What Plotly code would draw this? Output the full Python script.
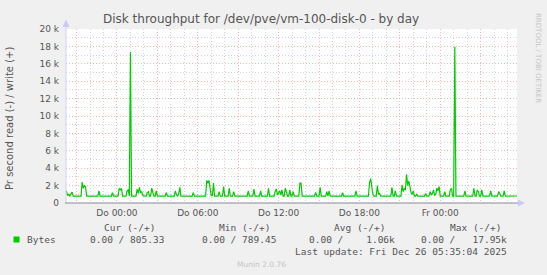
import plotly.graph_objects as go

# ---------------- data ----------------
sample_times = [
    "2025-12-24 20:13", "2025-12-24 20:15", "2025-12-24 20:20", "2025-12-24 20:25", "2025-12-24 20:30",
    "2025-12-24 20:40", "2025-12-24 20:45", "2025-12-24 21:20", "2025-12-24 21:25", "2025-12-24 21:30",
    "2025-12-24 21:35", "2025-12-24 21:40", "2025-12-24 21:45", "2025-12-24 22:35", "2025-12-24 22:40",
    "2025-12-24 22:45", "2025-12-24 23:35", "2025-12-24 23:40", "2025-12-24 23:45",
    "2025-12-25 00:05", "2025-12-25 00:10", "2025-12-25 00:15", "2025-12-25 00:20", "2025-12-25 00:25",
    "2025-12-25 00:40", "2025-12-25 00:45", "2025-12-25 00:50", "2025-12-25 00:55", "2025-12-25 01:00",
    "2025-12-25 01:05", "2025-12-25 01:25", "2025-12-25 01:30", "2025-12-25 01:35", "2025-12-25 01:40",
    "2025-12-25 01:45", "2025-12-25 01:50", "2025-12-25 01:55", "2025-12-25 02:00", "2025-12-25 02:10",
    "2025-12-25 02:15", "2025-12-25 02:20", "2025-12-25 02:25", "2025-12-25 02:30", "2025-12-25 02:35",
    "2025-12-25 02:40", "2025-12-25 02:45", "2025-12-25 02:50", "2025-12-25 02:55", "2025-12-25 03:00",
    "2025-12-25 03:35", "2025-12-25 03:40", "2025-12-25 03:45", "2025-12-25 04:15", "2025-12-25 04:20",
    "2025-12-25 04:25", "2025-12-25 04:30", "2025-12-25 04:35", "2025-12-25 04:40", "2025-12-25 04:45",
    "2025-12-25 05:35", "2025-12-25 05:40", "2025-12-25 05:45", "2025-12-25 06:35", "2025-12-25 06:40",
    "2025-12-25 06:45", "2025-12-25 06:50", "2025-12-25 06:55", "2025-12-25 07:00", "2025-12-25 07:05",
    "2025-12-25 07:10", "2025-12-25 07:15", "2025-12-25 07:30", "2025-12-25 07:35", "2025-12-25 07:40",
    "2025-12-25 07:50", "2025-12-25 07:55", "2025-12-25 08:00", "2025-12-25 08:15", "2025-12-25 08:20",
    "2025-12-25 08:25", "2025-12-25 08:35", "2025-12-25 08:40", "2025-12-25 08:45", "2025-12-25 09:40",
    "2025-12-25 09:45", "2025-12-25 09:50", "2025-12-25 10:05", "2025-12-25 10:10", "2025-12-25 10:15",
    "2025-12-25 10:35", "2025-12-25 10:40", "2025-12-25 10:45", "2025-12-25 11:10", "2025-12-25 11:15",
    "2025-12-25 11:20", "2025-12-25 11:40", "2025-12-25 11:45", "2025-12-25 11:50", "2025-12-25 11:55",
    "2025-12-25 12:00", "2025-12-25 12:05", "2025-12-25 12:10", "2025-12-25 12:15", "2025-12-25 12:20",
    "2025-12-25 12:25", "2025-12-25 12:30", "2025-12-25 12:35", "2025-12-25 12:40", "2025-12-25 12:45",
    "2025-12-25 12:50", "2025-12-25 12:55", "2025-12-25 13:00", "2025-12-25 13:05", "2025-12-25 13:10",
    "2025-12-25 13:30", "2025-12-25 13:35", "2025-12-25 13:40", "2025-12-25 13:45", "2025-12-25 14:40",
    "2025-12-25 14:45", "2025-12-25 14:50", "2025-12-25 15:00", "2025-12-25 15:05", "2025-12-25 15:10",
    "2025-12-25 15:30", "2025-12-25 15:35", "2025-12-25 15:40", "2025-12-25 15:45", "2025-12-25 15:50",
    "2025-12-25 16:40", "2025-12-25 16:45", "2025-12-25 16:50", "2025-12-25 17:40", "2025-12-25 17:45",
    "2025-12-25 17:50", "2025-12-25 18:40", "2025-12-25 18:45", "2025-12-25 18:50", "2025-12-25 18:55",
    "2025-12-25 19:00", "2025-12-25 19:05", "2025-12-25 19:15", "2025-12-25 19:20", "2025-12-25 19:25",
    "2025-12-25 19:30", "2025-12-25 19:35", "2025-12-25 20:20", "2025-12-25 20:25", "2025-12-25 20:30",
    "2025-12-25 20:35", "2025-12-25 20:40", "2025-12-25 20:45", "2025-12-25 21:05", "2025-12-25 21:10",
    "2025-12-25 21:15", "2025-12-25 21:20", "2025-12-25 21:25", "2025-12-25 21:30", "2025-12-25 21:35",
    "2025-12-25 21:40", "2025-12-25 21:45", "2025-12-25 21:50", "2025-12-25 21:55", "2025-12-25 22:00",
    "2025-12-25 22:05", "2025-12-25 22:10", "2025-12-25 22:15", "2025-12-25 22:20", "2025-12-25 22:50",
    "2025-12-25 22:55", "2025-12-25 23:00", "2025-12-25 23:10", "2025-12-25 23:15", "2025-12-25 23:20",
    "2025-12-25 23:25", "2025-12-25 23:30", "2025-12-25 23:35", "2025-12-25 23:40", "2025-12-25 23:45",
    "2025-12-25 23:50", "2025-12-25 23:55",
    "2025-12-26 00:00", "2025-12-26 00:15", "2025-12-26 00:20", "2025-12-26 00:25", "2025-12-26 00:40",
    "2025-12-26 00:45", "2025-12-26 00:50", "2025-12-26 00:55", "2025-12-26 01:00", "2025-12-26 01:05",
    "2025-12-26 01:10", "2025-12-26 01:45", "2025-12-26 01:50", "2025-12-26 01:55", "2025-12-26 02:25",
    "2025-12-26 02:30", "2025-12-26 02:35", "2025-12-26 02:40", "2025-12-26 02:45", "2025-12-26 02:50",
    "2025-12-26 02:55", "2025-12-26 03:00", "2025-12-26 03:05", "2025-12-26 03:10", "2025-12-26 03:40",
    "2025-12-26 03:45", "2025-12-26 03:50", "2025-12-26 04:15", "2025-12-26 04:20", "2025-12-26 04:25",
    "2025-12-26 04:30", "2025-12-26 04:40", "2025-12-26 04:45", "2025-12-26 04:50", "2025-12-26 05:42",
]
write_bytes = [
    1350, 1350, 900, 1000, 800,
    1250, 800, 800, 2400, 1700,
    2000, 1900, 800, 800, 1400,
    800, 800, 1200, 800,
    800, 1700, 1500, 1700, 800,
    800, 1400, 1500, 800, 17350,
    800, 800, 1600, 1100, 1800,
    1200, 1300, 900, 800, 800,
    1200, 1300, 800, 800, 1700,
    1200, 800, 800, 1400, 800,
    800, 1200, 800, 800, 1400,
    950, 800, 1000, 1800, 800,
    800, 1200, 800, 800, 2600,
    2300, 2600, 1700, 900, 800,
    2300, 800, 800, 1300, 800,
    800, 1900, 800, 800, 1700,
    800, 800, 1300, 800, 800,
    1400, 800, 800, 1600, 800,
    800, 1400, 800, 800, 1700,
    800, 800, 1300, 1600, 900,
    1100, 1400, 900, 1500, 800,
    800, 1700, 1100, 800, 800,
    1500, 800, 800, 1300, 800,
    800, 2300, 2300, 800, 800,
    1200, 800, 800, 1800, 800,
    800, 1300, 800, 1400, 800,
    800, 1200, 800, 800, 1400,
    800, 800, 2300, 2800, 1900,
    1000, 800, 800, 2000, 1000,
    1100, 800, 800, 1800, 800,
    800, 1400, 800, 800, 2100,
    1300, 1700, 1500, 3300, 2000,
    2500, 1900, 1200, 1000, 1400,
    800, 800, 1000, 800, 800,
    1100, 800, 800, 1300, 900,
    1100, 1500, 900, 1000, 1700,
    1400, 1900,
    800, 800, 1300, 800, 800,
    1500, 1700, 800, 800, 17950,
    800, 800, 1400, 800, 800,
    1700, 800, 800, 1500, 1300,
    800, 800, 1500, 800, 800,
    1400, 800, 800, 1300, 1100,
    800, 800, 1400, 800, 805,
]

x_range = ["2025-12-24 20:13", "2025-12-26 05:42"]
x_tick_vals = [
    "2025-12-24 21:00", "2025-12-25 00:00", "2025-12-25 03:00", "2025-12-25 06:00",
    "2025-12-25 09:00", "2025-12-25 12:00", "2025-12-25 15:00", "2025-12-25 18:00",
    "2025-12-25 21:00", "2025-12-26 00:00", "2025-12-26 03:00",
]
x_tick_text = ["", "Do 00:00", "", "Do 06:00", "", "Do 12:00", "", "Do 18:00", "", "Fr 00:00", ""]
y_tick_vals = [0, 2000, 4000, 6000, 8000, 10000, 12000, 14000, 16000, 18000, 20000]
y_tick_text = ["0", "2 k", "4 k", "6 k", "8 k", "10 k", "12 k", "14 k", "16 k", "18 k", "20 k"]

title_text = "Disk throughput for /dev/pve/vm-100-disk-0 - by day"
y_title = "Pr second read (-) / write (+)"
legend_name = "Bytes"
col_headers = ["Cur (-/+)", "Min (-/+)", "Avg (-/+)", "Max (-/+)"]
col_values = ["0.00 / 805.33", "0.00 / 789.45", "0.00 /    1.06k", "0.00 /   17.95k"]
last_update = "Last update: Fri Dec 26 05:35:04 2025"
side_text = "RRDTOOL / TOBI OETIKER"
footer_text = "Munin 2.0.76"

# ---------------- layout geometry ----------------
W, H = 547, 275
L, R, T, B = 66, 517, 29, 203


def px(x):
    return (x - L) / (R - L)


def py(y):
    return (B - y) / (B - T)


TXT = "#555555"
GREEN = "#00CC00"
MAJOR = "#F6B6B6"
MINOR = "#D6D6D6"

fig = go.Figure()
fig.add_trace(go.Scatter(
    x=sample_times, y=write_bytes, mode="lines",
    line=dict(color=GREEN, width=1.2), name=legend_name,
    hoverinfo="skip", showlegend=False,
))

fig.update_layout(
    width=W, height=H,
    margin=dict(l=L, r=W - R, t=T, b=H - B),
    paper_bgcolor="#F0F0F0", plot_bgcolor="#FFFFFF",
    font=dict(family="DejaVu Sans", size=9, color=TXT),
    showlegend=False,
)

fig.update_xaxes(
    type="date", range=x_range,
    tickmode="array", tickvals=x_tick_vals, ticktext=x_tick_text,
    showgrid=True, gridcolor=MAJOR, griddash="1px,2px", gridwidth=1,
    minor=dict(dtick=3600000, tick0="2025-12-24 20:00", showgrid=True,
               gridcolor=MINOR, griddash="1px,2px", gridwidth=1),
    ticks="", showline=False, zeroline=False,
    tickfont=dict(family="DejaVu Sans", size=9, color=TXT),
    ticklabelstandoff=3,
)
fig.update_yaxes(
    range=[0, 20000],
    tickmode="array", tickvals=y_tick_vals, ticktext=y_tick_text,
    showgrid=True, gridcolor=MAJOR, griddash="1px,2px", gridwidth=1,
    minor=dict(dtick=1000, tick0=0, showgrid=True,
               gridcolor=MINOR, griddash="1px,2px", gridwidth=1),
    ticks="", showline=False, zeroline=False,
    tickfont=dict(family="DejaVu Sans", size=9, color=TXT),
    ticklabelstandoff=6,
)

shapes = []
# axis lines and arrows
shapes.append(dict(type="line", xref="paper", yref="paper",
                   x0=px(66), x1=px(66), y0=py(203), y1=py(24),
                   line=dict(color="#D2D2F2", width=1)))
shapes.append(dict(type="line", xref="paper", yref="paper",
                   x0=px(65), x1=px(520), y0=py(203), y1=py(203),
                   line=dict(color="#8A8AA0", width=1)))
shapes.append(dict(type="path", xref="paper", yref="paper",
                   path=f"M {px(62.5)} {py(27)} L {px(66)} {py(19.5)} L {px(69.5)} {py(27)} Z",
                   fillcolor="#C8CCF2", line=dict(width=0)))
shapes.append(dict(type="path", xref="paper", yref="paper",
                   path=f"M {px(518)} {py(199.5)} L {px(525)} {py(203)} L {px(518)} {py(206.5)} Z",
                   fillcolor="#C8CCF2", line=dict(width=0)))
# legend colour square
shapes.append(dict(type="rect", xref="paper", yref="paper",
                   x0=px(13.5), x1=px(19.5), y0=py(242.5), y1=py(236.5),
                   fillcolor=GREEN, line=dict(width=0)))
fig.update_layout(shapes=shapes)

ann = []
ann.append(dict(text=title_text, x=px(261), y=py(19), xref="paper", yref="paper",
                xanchor="center", yanchor="middle", showarrow=False,
                font=dict(family="DejaVu Sans", size=12, color=TXT)))
ann.append(dict(text=y_title, x=px(10), y=py(119), xref="paper", yref="paper",
                xanchor="center", yanchor="middle", showarrow=False, textangle=-90,
                font=dict(family="DejaVu Sans", size=10, color=TXT)))
ann.append(dict(text=side_text, x=px(538), y=py(58), xref="paper", yref="paper",
                xanchor="center", yanchor="middle", showarrow=False, textangle=90,
                font=dict(family="DejaVu Sans", size=7, color="#C4C4C4")))
MONO = "DejaVu Sans Mono"
ann.append(dict(text=legend_name, x=px(25), y=py(239.7), xref="paper", yref="paper",
                xanchor="left", yanchor="middle", showarrow=False,
                font=dict(family=MONO, size=9.5, color=TXT)))
header_right = [157, 271.7, 386.7, 502.7]
value_right = [165.7, 278, 396.7, 509.3]
for h, xr in zip(col_headers, header_right):
    ann.append(dict(text=h, x=px(xr), y=py(227.5), xref="paper", yref="paper",
                    xanchor="right", yanchor="middle", showarrow=False,
                    font=dict(family=MONO, size=9.5, color=TXT)))
for v, xr in zip(col_values, value_right):
    ann.append(dict(text=v.replace(" ", "&nbsp;"), x=px(xr), y=py(239.7), xref="paper", yref="paper",
                    xanchor="right", yanchor="middle", showarrow=False,
                    font=dict(family=MONO, size=9.5, color=TXT)))
ann.append(dict(text=last_update, x=px(509), y=py(251.3), xref="paper", yref="paper",
                xanchor="right", yanchor="middle", showarrow=False,
                font=dict(family=MONO, size=9.5, color=TXT)))
ann.append(dict(text=footer_text, x=px(261), y=py(264.3), xref="paper", yref="paper",
                xanchor="center", yanchor="middle", showarrow=False,
                font=dict(family="DejaVu Sans", size=7.5, color="#C4C4C4")))
fig.update_layout(annotations=ann)

fig.write_html("out.html")
